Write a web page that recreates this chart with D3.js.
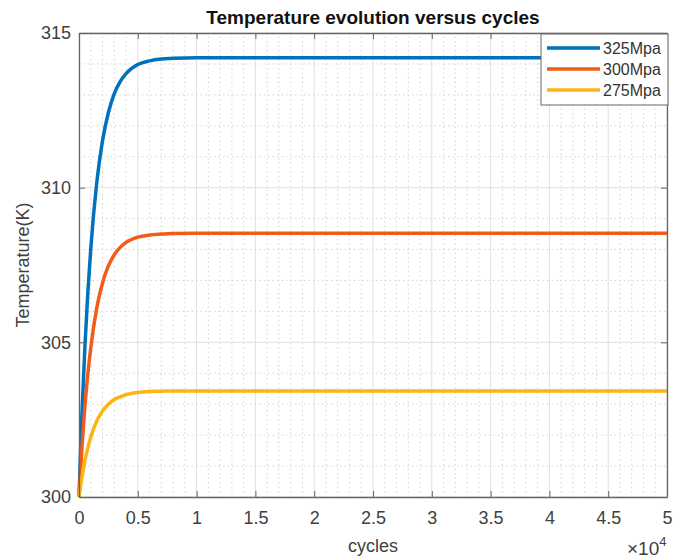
<!DOCTYPE html>
<meta http-equiv="content-type" content="text/html; charset=utf-8">
<style>
body { margin:0; background:#fff; }
text { font-family:"Liberation Sans", Arial, sans-serif; }
.tick text { font-size:18px; fill:#404040; }
</style>
<body>
<div id="chart"></div>
<script src="https://d3js.org/d3.v7.min.js"></script>
<script>
var width = 686, height = 558;
var margin = {top:33, right:19, bottom:61, left:79};

// data
var cycles   = [0, 250, 500, 750, 1000, 1500, 2000, 2500, 3000, 3500, 4000, 5000, 6000, 7000, 8000, 10000, 50000];
var temp325  = [300, 302.67, 304.84, 306.60, 308.02, 310.13, 311.52, 312.43, 313.04, 313.43, 313.69, 313.98, 314.10, 314.16, 314.18, 314.2, 314.2];
var temp300  = [300, 301.60, 302.91, 303.97, 304.82, 306.09, 306.92, 307.47, 307.83, 308.07, 308.23, 308.40, 308.47, 308.50, 308.52, 308.53, 308.53];
var temp275  = [300, 300.64, 301.17, 301.59, 301.94, 302.45, 302.78, 303.00, 303.15, 303.24, 303.31, 303.38, 303.41, 303.42, 303.43, 303.43, 303.43];
var seriesNames  = ["325Mpa", "300Mpa", "275Mpa"];
var seriesColors = ["#0072BD", "#F25C19", "#FDB515"];
var xTicks = [0, 0.5, 1, 1.5, 2, 2.5, 3, 3.5, 4, 4.5, 5];
var yTicks = [300, 305, 310, 315];

var series = [temp325, temp300, temp275];

var svg = d3.select("#chart").append("svg")
    .attr("width", width)
    .attr("height", height);

var x = d3.scaleLinear().domain([0, 50000]).range([margin.left, width - margin.right]);
var y = d3.scaleLinear().domain([300, 315]).range([height - margin.bottom, margin.top]);

// minor grid
var xMinor = d3.range(0, 50001, 1000).filter(function(d) { return d % 5000 != 0; });
var yMinor = d3.range(300, 315.5, 1).filter(function(d) { return d % 5 != 0; });

svg.append("g").selectAll("line")
  .data(xMinor)
  .enter().append("line")
    .attr("x1", function(d) { return x(d); })
    .attr("x2", function(d) { return x(d); })
    .attr("y1", y(300)).attr("y2", y(315))
    .attr("stroke", "#d4d4d4")
    .attr("stroke-dasharray", "1.5,3");

svg.append("g").selectAll("line")
  .data(yMinor)
  .enter().append("line")
    .attr("y1", function(d) { return y(d); })
    .attr("y2", function(d) { return y(d); })
    .attr("x1", x(0)).attr("x2", x(50000))
    .attr("stroke", "#d4d4d4")
    .attr("stroke-dasharray", "1.5,3");

// major grid
svg.append("g").selectAll("line")
  .data(xTicks)
  .enter().append("line")
    .attr("x1", function(d) { return x(d * 10000); })
    .attr("x2", function(d) { return x(d * 10000); })
    .attr("y1", y(300)).attr("y2", y(315))
    .attr("stroke", "#e0e0e0");

svg.append("g").selectAll("line")
  .data(yTicks)
  .enter().append("line")
    .attr("y1", function(d) { return y(d); })
    .attr("y2", function(d) { return y(d); })
    .attr("x1", x(0)).attr("x2", x(50000))
    .attr("stroke", "#e0e0e0");

// lines
var line = d3.line()
    .x(function(d, i) { return x(cycles[i]); })
    .y(function(d) { return y(d); })
    .curve(d3.curveMonotoneX);

svg.append("g").selectAll("path")
  .data(series)
  .enter().append("path")
    .attr("d", line)
    .attr("fill", "none")
    .attr("stroke", function(d, i) { return seriesColors[i]; })
    .attr("stroke-width", 3.5);

// axes
svg.append("g")
    .attr("transform", "translate(0," + y(300) + ")")
    .call(d3.axisBottom(x)
      .tickValues(xTicks.map(function(d) { return d * 10000; }))
      .tickFormat(function(d) { return d / 10000; })
      .tickSizeInner(-6).tickSizeOuter(0).tickPadding(14));

svg.append("g")
    .attr("transform", "translate(0," + y(315) + ")")
    .call(d3.axisTop(x)
      .tickValues(xTicks.map(function(d) { return d * 10000; }))
      .tickFormat("")
      .tickSizeInner(-6).tickSizeOuter(0));

svg.append("g")
    .attr("transform", "translate(" + x(0) + ",0)")
    .call(d3.axisLeft(y)
      .tickValues(yTicks)
      .tickSizeInner(-6).tickSizeOuter(0).tickPadding(8));

svg.append("g")
    .attr("transform", "translate(" + x(50000) + ",0)")
    .call(d3.axisRight(y)
      .tickValues(yTicks)
      .tickFormat("")
      .tickSizeInner(-6).tickSizeOuter(0));

svg.selectAll(".domain").attr("stroke", "#666").attr("stroke-width", 1.3);
svg.selectAll(".tick line").attr("stroke", "#666");

// titles
svg.append("text")
  .attr("x", (x(0) + x(50000)) / 2)
  .attr("y", 24)
  .attr("text-anchor", "middle")
  .attr("font-weight", "bold")
  .attr("font-size", "19px")
  .attr("fill", "#111")
  .text("Temperature evolution versus cycles");

svg.append("text")
  .attr("x", (x(0) + x(50000)) / 2)
  .attr("y", 552)
  .attr("text-anchor", "middle")
  .attr("font-size", "18px")
  .attr("fill", "#404040")
  .text("cycles");

svg.append("text")
  .attr("transform", "translate(29," + (y(300) + y(315)) / 2 + ") rotate(-90)")
  .attr("text-anchor", "middle")
  .attr("font-size", "18px")
  .attr("fill", "#404040")
  .text("Temperature(K)");

var expo = svg.append("text")
  .attr("x", 627)
  .attr("y", 555)
  .attr("font-size", "19px")
  .attr("fill", "#404040");
expo.append("tspan").text("\u00d710");
expo.append("tspan").attr("dy", -9).attr("font-size", "13px").text("4");

// legend
var lg = svg.append("g").attr("transform", "translate(541,34)");
lg.append("rect")
  .attr("width", 127).attr("height", 71)
  .attr("fill", "#fff")
  .attr("stroke", "#666");

var item = lg.selectAll(".item")
  .data(seriesNames)
  .enter().append("g")
    .attr("transform", function(d, i) { return "translate(0," + (14 + i * 21) + ")"; });

item.append("line")
  .attr("x1", 6).attr("x2", 59)
  .attr("stroke", function(d, i) { return seriesColors[i]; })
  .attr("stroke-width", 3.5);

item.append("text")
  .attr("x", 62).attr("y", 5.5)
  .attr("font-size", "16px")
  .attr("fill", "#333")
  .text(function(d) { return d; });
</script>
</body>
</html>
